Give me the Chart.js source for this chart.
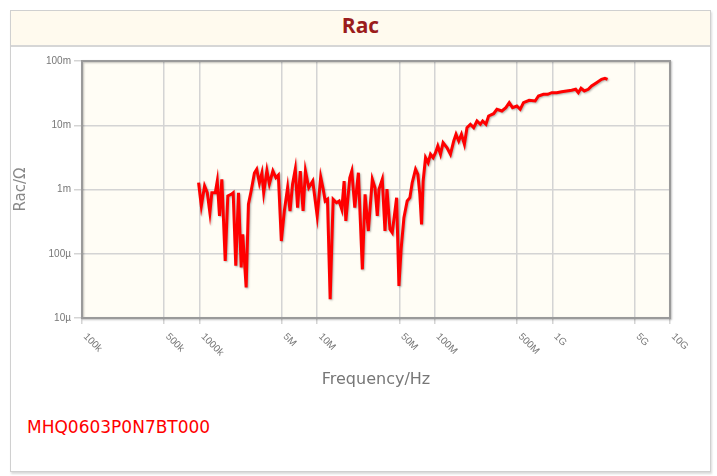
<!DOCTYPE html>
<html>
<head>
<meta charset="utf-8">
<script src="https://cdn.jsdelivr.net/npm/chart.js@4/dist/chart.umd.min.js"></script>
<style>
  html, body { margin: 0; padding: 0; background: #fff; width: 717px; height: 476px; overflow: hidden; }
  .panel {
    position: absolute; left: 10px; top: 10px; width: 699px; height: 460px;
    border: 1px solid #d0d0d0; box-shadow: 1px 2px 2px rgba(0,0,0,0.15); background: #fff;
  }
  .title {
    height: 34px; line-height: 34px; background: #fffaee; border-bottom: 2px solid #d6d6d6;
    text-align: center; font: bold 21px "Open Sans", "DejaVu Sans", sans-serif; color: #9b1c1c;
  }
  #chart { position: absolute; left: 0px; top: 36px; }
  .part {
    position: absolute; left: 16px; top: 406px;
    font: 17px "DejaVu Sans", sans-serif; color: #ff0000;
  }
</style>
</head>
<body>
<div class="panel">
  <div class="title">Rac</div>
  <canvas id="chart" width="698" height="354"></canvas>
  <div class="part">MHQ0603P0N7BT000</div>
</div>
<script>
// frequency in MHz
const freqMHz = [
  0.98, 1.034, 1.102, 1.162, 1.223, 1.271, 1.359, 1.413, 1.477, 1.545,
  1.651, 1.737, 1.856, 1.930, 2.030, 2.141, 2.257, 2.327, 2.488, 2.602,
  2.743, 2.925, 3.059, 3.225, 3.386, 3.507, 3.733, 3.919, 4.197, 4.449,
  4.673, 4.954, 5.253, 5.602, 5.871, 6.175, 6.510, 6.809, 7.178, 7.582,
  7.943, 8.472, 9.161, 10.0, 10.71, 11.24, 11.69, 12.23, 12.89, 13.66,
  14.58, 15.36, 16.19, 16.94, 17.51, 18.93, 19.69, 20.87, 22.39, 24.21,
  25.52, 27.21, 29.42, 31.01, 32.43, 33.53, 35.76, 37.70, 39.19, 41.56,
  43.46, 47.36, 49.53, 51.81, 54.62, 58.25, 61.40, 64.23, 68.61, 71.76,
  74.63, 77.15, 79.59, 83.41, 87.74, 91.95, 96.74, 101.4, 106.0, 111.8,
  117.6, 127.1, 135.8, 144.9, 151.5, 159.7, 168.4, 178.5, 187.8, 200.7,
  214.1, 228.3, 243.9, 255.1, 272.1, 286.8, 316.2, 337.3, 371.8, 402.0,
  429.5, 458.1, 498.3, 532.3, 567.8, 634.6, 713.5, 761.2, 838.9, 912.4,
  986.5, 1087.5, 1199, 1322, 1458, 1576, 1661, 1751, 1867, 2019,
  2154, 2374, 2617, 2797, 2942
];

// Rac in milliohm
const racMilliOhm = [
  1.276, 0.554, 1.134, 0.892, 0.436, 0.892, 0.892, 1.356, 0.387, 1.441,
  0.077, 0.792, 0.842, 0.892, 0.065, 0.892, 0.061, 0.201, 0.030, 0.589,
  0.948, 1.806, 2.063, 1.262, 1.806, 0.892, 1.976, 1.218, 1.941, 1.527,
  1.681, 0.158, 0.463, 1.067, 0.463, 1.218, 2.063, 0.521, 1.941, 0.463,
  1.941, 1.067, 1.356, 0.387, 1.565, 1.018, 0.662, 0.704, 0.0196, 0.704,
  0.623, 0.662, 0.492, 1.356, 0.324, 1.527, 1.941, 0.521, 1.826, 0.057,
  0.842, 0.226, 1.441, 1.067, 0.387, 1.007, 1.441, 0.226, 1.018, 0.240,
  0.213, 0.745, 0.0315, 0.124, 0.364, 0.662, 0.745, 1.276, 2.063, 1.724,
  0.842, 0.287, 1.356, 3.126, 2.613, 3.531, 3.126, 3.740, 4.755, 3.531,
  5.350, 4.473, 3.531, 5.686, 7.228, 5.686, 7.228, 5.05, 9.16, 10.35,
  9.16, 11.65, 10.35, 11.65, 10.35, 13.93, 15.13, 17.71, 16.67, 18.76,
  22.44, 18.76, 19.93, 17.71, 22.44, 24.45, 23.84, 28.53, 30.31, 30.31,
  32.11, 32.11, 33.29, 34.13, 34.99, 36.26, 32.11, 37.59, 34.13, 36.26,
  40.82, 45.95, 51.91, 53.79, 51.91
];

const xTickValues = [1e5, 5e5, 1e6, 5e6, 1e7, 5e7, 1e8, 5e8, 1e9, 5e9, 1e10];
const xTickLabels = ['100k', '500k', '1000k', '5M', '10M', '50M', '100M', '500M', '1G', '5G', '10G'];
const yTickValues = [1e-5, 1e-4, 1e-3, 1e-2, 1e-1];
const yTickLabels = ['10µ', '100µ', '1m', '10m', '100m'];

const points = freqMHz.map((f, i) => ({ x: f * 1e6, y: racMilliOhm[i] * 1e-3 }));

// plot background + frame
const plotFrame = {
  id: 'plotFrame',
  beforeDraw(chart) {
    const { ctx, chartArea: a } = chart;
    ctx.save();
    ctx.fillStyle = '#fffdf5';
    ctx.fillRect(a.left, a.top, a.right - a.left, a.bottom - a.top);
    ctx.restore();
  },
  afterDraw(chart) {
    const { ctx, chartArea: a } = chart;
    ctx.save();
    ctx.shadowColor = 'rgba(0,0,0,0.25)';
    ctx.shadowOffsetX = 1;
    ctx.shadowOffsetY = 1;
    ctx.shadowBlur = 2;
    ctx.strokeStyle = '#9a9a9a';
    ctx.lineWidth = 2;
    ctx.strokeRect(a.left, a.top, a.right - a.left, a.bottom - a.top);
    ctx.restore();
  }
};

// slight shadow under the curve
const lineShadow = {
  id: 'lineShadow',
  beforeDatasetDraw(chart) {
    const ctx = chart.ctx;
    ctx.save();
    ctx.shadowColor = 'rgba(0,0,0,0.3)';
    ctx.shadowOffsetX = 1;
    ctx.shadowOffsetY = 1;
    ctx.shadowBlur = 2;
  },
  afterDatasetDraw(chart) {
    chart.ctx.restore();
  }
};

// x labels are slanted downward to the right, which chart.js won't do natively
const xLabels = {
  id: 'xLabels',
  afterDraw(chart) {
    const { ctx } = chart;
    const xs = chart.scales.x;
    ctx.save();
    ctx.font = '10px "Liberation Sans", sans-serif';
    ctx.fillStyle = '#777';
    ctx.textAlign = 'left';
    ctx.textBaseline = 'middle';
    xTickValues.forEach((v, i) => {
      const px = xs.getPixelForValue(v);
      ctx.save();
      ctx.translate(px + 3, xs.top + 17);
      ctx.rotate(Math.PI / 4);
      ctx.fillText(xTickLabels[i], 0, 0);
      ctx.restore();
    });
    ctx.restore();
  }
};

new Chart(document.getElementById('chart'), {
  type: 'line',
  data: {
    datasets: [{
      data: points,
      borderColor: '#ff0000',
      borderWidth: 3,
      pointRadius: 0,
      tension: 0,
      fill: false
    }]
  },
  options: {
    responsive: false,
    animation: false,
    layout: { padding: { top: 14, right: 39, bottom: 0, left: 0 } },
    plugins: { legend: { display: false }, tooltip: { enabled: false } },
    scales: {
      x: {
        type: 'logarithmic',
        min: 1e5,
        max: 1e10,
        afterBuildTicks: s => { s.ticks = xTickValues.map(v => ({ value: v })); },
        afterFit: s => { s.height = 83; },
        border: { display: false },
        grid: { color: '#d4d4d4', lineWidth: 1.5, tickLength: 6, drawTicks: true },
        ticks: { display: false },
        title: {
          display: true,
          text: 'Frequency/Hz',
          color: '#777',
          font: { family: 'DejaVu Sans', size: 16 },
          padding: { top: 0, bottom: 12 }
        }
      },
      y: {
        type: 'logarithmic',
        min: 1e-5,
        max: 1e-1,
        afterBuildTicks: s => { s.ticks = yTickValues.map(v => ({ value: v })); },
        afterFit: s => { s.width = 71; },
        border: { display: false },
        grid: { color: '#d4d4d4', lineWidth: 1.5, tickLength: 8 },
        ticks: {
          color: '#777',
          font: { family: 'Liberation Sans', size: 10 },
          padding: 3,
          callback: (v, i) => yTickLabels[i]
        },
        title: {
          display: true,
          text: 'Rac/Ω',
          color: '#888',
          font: { family: 'DejaVu Sans', size: 15 },
          padding: { top: 1, bottom: 0 }
        }
      }
    }
  },
  plugins: [plotFrame, lineShadow, xLabels]
});
</script>
</body>
</html>
